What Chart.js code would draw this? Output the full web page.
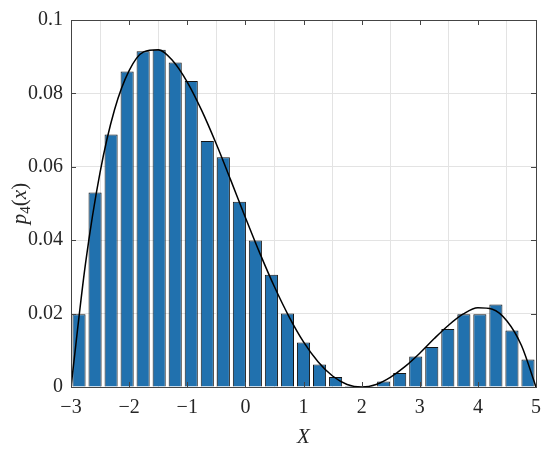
<!DOCTYPE html>
<html>
<head>
<meta charset="utf-8">
<script src="https://cdn.jsdelivr.net/npm/chart.js@4/dist/chart.umd.min.js"></script>
<style>
  html, body { margin: 0; padding: 0; background: #fff; }
  #chart { display: block; }
</style>
</head>
<body>
<canvas id="chart" width="550" height="452"></canvas>
<script>
// histogram bin centres (29 bins between -3 and 5)
const binCenters = [-2.862, -2.586, -2.310, -2.034, -1.759, -1.483, -1.207, -0.931, -0.655, -0.379,
    -0.103, 0.172, 0.448, 0.724, 1.000, 1.276, 1.552, 1.828, 2.103, 2.379,
    2.655, 2.931, 3.207, 3.483, 3.759, 4.034, 4.310, 4.586, 4.862];
const binValues = [0.0198, 0.0530, 0.0688, 0.0860, 0.0915, 0.0919, 0.0884, 0.0834, 0.0670, 0.0626,
    0.0505, 0.0399, 0.0306, 0.0200, 0.0121, 0.0061, 0.0027, 0.0003, 0.0002, 0.0015,
    0.0038, 0.0083, 0.0109, 0.0158, 0.0198, 0.0198, 0.0225, 0.0154, 0.0075];

// density curve p4(x), read every 0.25
const curveX = [-3, -2.75, -2.5, -2.25, -2, -1.75, -1.5, -1.25, -1, -0.75, -0.5, -0.25, 0,
    0.25, 0.5, 0.75, 1, 1.25, 1.5, 1.75, 2, 2.25, 2.5, 2.75, 3, 3.25, 3.5, 3.75, 4,
    4.25, 4.5, 4.75, 5];
const curveY = [0, 0.0337, 0.0585, 0.0756, 0.0862, 0.0913, 0.0919, 0.0889, 0.0831, 0.0753, 0.0662, 0.0563, 0.0462,
    0.0364, 0.0273, 0.0192, 0.0123, 0.0069, 0.0030, 0.0007, 0, 0.0007, 0.0027, 0.0056, 0.0092, 0.0132, 0.0169, 0.0199, 0.0216,
    0.0212, 0.0180, 0.0113, 0];

const xTicks = [-3, -2, -1, 0, 1, 2, 3, 4, 5];
const yTicks = [0, 0.02, 0.04, 0.06, 0.08, 0.1];

const FONT = 'Liberation Serif, serif';
const AXIS_COLOR = '#444444';

Chart.defaults.font.family = FONT;

const fmtX = v => (v < 0 ? '\u2212' + Math.abs(v) : String(v));
const fmtY = v => String(+v.toFixed(2));

// box around the axes, inward tick marks, axis titles
const framePlugin = {
    id: 'frame',
    afterDraw(chart) {
        const { ctx, chartArea: a, scales } = chart;
        const tl = 5;
        ctx.save();
        ctx.strokeStyle = AXIS_COLOR;
        ctx.lineWidth = 1;
        ctx.strokeRect(Math.round(a.left) + 0.5, Math.round(a.top) + 0.5,
            Math.round(a.right - a.left), Math.round(a.bottom - a.top));

        ctx.beginPath();
        xTicks.forEach(t => {
            const px = Math.round(scales.x.getPixelForValue(t)) + 0.5;
            ctx.moveTo(px, a.bottom); ctx.lineTo(px, a.bottom - tl);
            ctx.moveTo(px, a.top); ctx.lineTo(px, a.top + tl);
        });
        yTicks.forEach(t => {
            const py = Math.round(scales.y.getPixelForValue(t)) + 0.5;
            ctx.moveTo(a.left, py); ctx.lineTo(a.left + tl, py);
            ctx.moveTo(a.right, py); ctx.lineTo(a.right - tl, py);
        });
        ctx.stroke();

        // x title
        ctx.fillStyle = '#262626';
        ctx.font = 'italic 21px ' + FONT;
        ctx.textAlign = 'center';
        ctx.textBaseline = 'middle';
        ctx.fillText('X', (a.left + a.right) / 2, 437);

        // y title p_4(x), rotated
        const parts = [
            { t: 'p', f: 'italic 21px ' + FONT, dy: 0 },
            { t: '4', f: '15px ' + FONT, dy: 4 },
            { t: '(', f: '21px ' + FONT, dy: 0 },
            { t: 'x', f: 'italic 21px ' + FONT, dy: 0 },
            { t: ')', f: '21px ' + FONT, dy: 0 }
        ];
        let total = 0;
        parts.forEach(p => { ctx.font = p.f; p.w = ctx.measureText(p.t).width; total += p.w; });
        ctx.translate(20, (a.top + a.bottom) / 2);
        ctx.rotate(-Math.PI / 2);
        ctx.textAlign = 'left';
        ctx.textBaseline = 'alphabetic';
        let cx = -total / 2;
        parts.forEach(p => {
            ctx.font = p.f;
            ctx.fillText(p.t, cx, 6 + p.dy);
            cx += p.w;
        });
        ctx.restore();
    }
};

const ctx = document.getElementById('chart').getContext('2d');
new Chart(ctx, {
    data: {
        datasets: [
            {
                type: 'line',
                order: 0,
                data: curveX.map((x, i) => ({ x, y: curveY[i] })),
                borderColor: '#000000',
                borderWidth: 1.5,
                pointRadius: 0,
                cubicInterpolationMode: 'monotone',
                fill: false
            },
            {
                type: 'bar',
                order: 1,
                data: binCenters.map((x, i) => ({ x, y: binValues[i] })),
                backgroundColor: '#2171ae',
                borderColor: '#151515',
                borderWidth: 1,
                barPercentage: 0.82,
                categoryPercentage: 1
            }
        ]
    },
    options: {
        responsive: false,
        animation: false,
        layout: { padding: { top: 15, right: 11, left: 0, bottom: 0 } },
        plugins: { legend: { display: false }, tooltip: { enabled: false } },
        scales: {
            x: {
                type: 'linear',
                min: -3,
                max: 5,
                offset: false,
                afterBuildTicks: s => { s.ticks = xTicks.map(v => ({ value: v })); },
                afterFit: s => { s.height = 65; },
                grid: { color: '#e3e3e3', drawTicks: false },
                border: { display: false },
                ticks: {
                    padding: 9,
                    color: '#262626',
                    font: { family: FONT, size: 20 },
                    callback: v => fmtX(v)
                }
            },
            y: {
                type: 'linear',
                min: 0,
                max: 0.1,
                afterBuildTicks: s => { s.ticks = yTicks.map(v => ({ value: v })); },
                afterFit: s => { s.width = 71; },
                grid: { color: '#e3e3e3', drawTicks: false },
                border: { display: false },
                ticks: {
                    padding: 8,
                    color: '#262626',
                    font: { family: FONT, size: 20 },
                    callback: v => fmtY(v)
                }
            }
        }
    },
    plugins: [framePlugin]
});
</script>
</body>
</html>
